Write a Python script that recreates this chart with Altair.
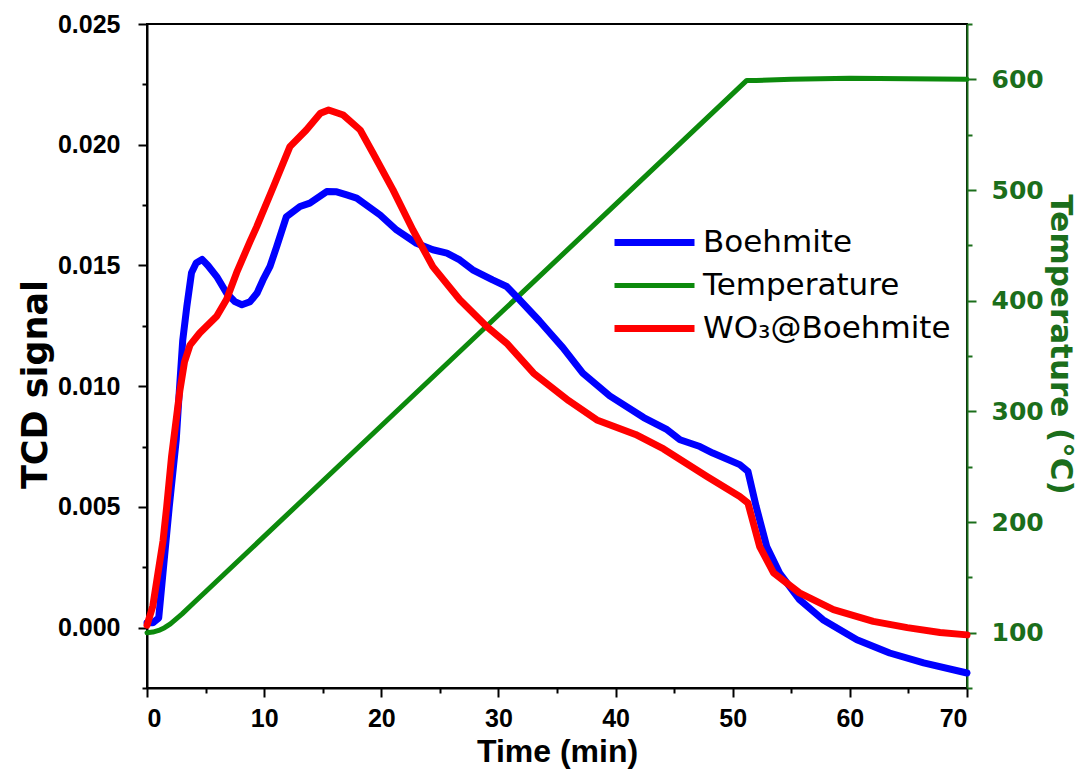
import altair as alt
import pandas as pd

# ---- data ----
time_boehmite = [0, 0.5, 1.0, 1.37, 1.9, 2.5, 2.76, 3.05, 3.4, 3.8, 4.2, 4.7, 5.2, 5.95, 6.8,
                 7.5, 8.1, 8.8, 9.4, 9.9, 10.5, 11.07, 11.9, 13.06, 13.9, 15.34, 16.2, 17.05,
                 17.9, 19.9, 21.3, 23.0, 24.4, 25.6, 26.7, 27.8, 29.5, 30.7, 31.8, 33.5, 34.4,
                 35.5, 37.2, 39.5, 42.4, 44.4, 45.5, 47.2, 48.3, 50.6, 51.3, 52.0, 52.9, 54.0,
                 55.7, 57.7, 60.6, 63.4, 66.3, 70.0]
tcd_boehmite = [0.0002, 0.0002, 0.0004, 0.0023, 0.0050, 0.0078, 0.0098, 0.0119, 0.0133, 0.0147,
                0.0151, 0.01525, 0.0150, 0.01454, 0.01385, 0.0135, 0.01337, 0.0135, 0.01386,
                0.0144, 0.01496, 0.01578, 0.01702, 0.01744, 0.01758, 0.01806, 0.01805, 0.01792,
                0.01779, 0.01709, 0.01647, 0.01592, 0.01565, 0.01551, 0.01523, 0.01482, 0.0144,
                0.01413, 0.01358, 0.0127, 0.0122, 0.0116, 0.01054, 0.0096, 0.0087, 0.0082,
                0.00778, 0.0075, 0.00723, 0.00675, 0.00647, 0.00502, 0.00336, 0.00226, 0.00116,
                0.00033, -0.0005, -0.00105, -0.00146, -0.00188]

time_wo3 = [0, 0.5, 0.95, 1.37, 1.68, 2.1, 2.8, 3.2, 3.67, 4.5, 5.95, 6.8, 7.65, 8.8, 9.36,
            10.8, 12.2, 13.6, 14.8, 15.5, 16.76, 18.2, 19.3, 21.0, 22.7, 24.4, 26.7, 29.0,
            30.7, 33.0, 36.0, 38.4, 41.7, 44.1, 47.8, 50.6, 51.3, 52.3, 53.5, 55.7, 58.6,
            62.0, 64.9, 67.7, 70.0]
tcd_wo3 = [0.0001, 0.0009, 0.0023, 0.0036, 0.0050, 0.0071, 0.0098, 0.0110, 0.0117, 0.0122,
           0.0129, 0.0136, 0.0147, 0.0160, 0.0166, 0.01827, 0.01992, 0.02061, 0.0213, 0.02144,
           0.02123, 0.02061, 0.01965, 0.01813, 0.01647, 0.01495, 0.01358, 0.01247, 0.01178,
           0.01054, 0.0094, 0.0086, 0.0080, 0.0074, 0.00626, 0.00543, 0.00516, 0.00336,
           0.00226, 0.00144, 0.00075, 0.00026, 0.0, -0.0002, -0.0003]

time_temp = [0, 0.5, 1.0, 1.5, 2.0, 3.0, 4.0, 5.0, 10.0, 20.0, 30.0, 40.0, 51.2, 52.0, 55.0,
             60.0, 65.0, 70.0]
temperature = [100, 100.5, 102, 104.5, 108, 117, 127, 137, 187, 287, 387, 487, 599, 599, 600,
               601, 600.5, 600]

series_names = ["Boehmite", "Temperature", "WO₃@Boehmite"]
series_colors = ["#0000ff", "#0c8a0c", "#ff0000"]
series_widths = [7, 5, 7]

x_ticks = [0, 5, 10, 15, 20, 25, 30, 35, 40, 45, 50, 55, 60, 65, 70]
left_ticks = [-0.0025, 0.0, 0.0025, 0.005, 0.0075, 0.01, 0.0125, 0.015, 0.0175, 0.02,
              0.0225, 0.025]
right_ticks = [50, 100, 150, 200, 250, 300, 350, 400, 450, 500, 550, 600, 650]

# ---- tables ----
tcd_df = pd.concat([
    pd.DataFrame({"time": time_boehmite, "value": tcd_boehmite, "series": series_names[0]}),
    pd.DataFrame({"time": time_wo3, "value": tcd_wo3, "series": series_names[2]}),
])
temp_df = pd.DataFrame({"time": time_temp, "value": temperature, "series": series_names[1]})

AXIS_GREEN = "#1b6e1b"

legend = alt.Legend(title=None, orient="none", legendX=492, legendY=203,
                    symbolType="M-4,0H4", symbolSize=400, labelFont="DejaVu Sans",
                    labelFontSize=31, labelColor="black", rowPadding=11, labelOffset=33,
                    labelLimit=400)
color = alt.Color("series:N", scale=alt.Scale(domain=series_names, range=series_colors),
                  legend=legend)
width = alt.StrokeWidth("series:N",
                        scale=alt.Scale(type="ordinal", domain=series_names, range=series_widths),
                        legend=legend)

x_enc = alt.X("time:Q", scale=alt.Scale(domain=[0, 70], nice=False, zero=False),
              axis=alt.Axis(title="Time (min)", values=x_ticks, orient="bottom",
                            labelExpr="datum.value % 10 == 0 ? datum.label : ''",
                            tickSize={"condition": {"test": "datum.value % 10 != 0", "value": 5},
                                      "value": 9},
                            labelFont="Liberation Sans", labelFontWeight="bold",
                            labelFontSize=25, labelPadding=9, labelColor="black",
                            titleFont="Liberation Sans", titleFontWeight="bold",
                            titleFontSize=32, titlePadding=5, titleColor="black",
                            domainColor="black", tickColor="black", domainWidth=2,
                            tickWidth=2, grid=False))

temp_layer = alt.Chart(temp_df).mark_line(strokeCap="round", strokeJoin="round").encode(
    x=x_enc,
    y=alt.Y("value:Q", scale=alt.Scale(domain=[50, 650], nice=False, zero=False),
            axis=alt.Axis(title="Temperature (°C)", orient="right", values=right_ticks,
                          labelExpr="datum.value % 100 == 0 ? datum.label : ''",
                          tickSize={"condition": {"test": "datum.value % 100 != 0", "value": 5},
                                    "value": 9},
                          labelFont="DejaVu Sans", labelFontWeight="bold", labelFontSize=25,
                          labelColor=AXIS_GREEN, labelPadding=15,
                          titleFont="DejaVu Sans", titleFontWeight="bold", titleFontSize=31,
                          titleColor=AXIS_GREEN, titlePadding=0, titleY=320,
                          domainColor=AXIS_GREEN, tickColor=AXIS_GREEN, domainWidth=2,
                          tickWidth=2, grid=False)),
    color=color,
    strokeWidth=width,
)

tcd_layer = alt.Chart(tcd_df).mark_line(strokeCap="round", strokeJoin="round").encode(
    x=x_enc,
    y=alt.Y("value:Q", scale=alt.Scale(domain=[-0.0025, 0.025], nice=False, zero=False),
            axis=alt.Axis(title="TCD signal", orient="left", values=left_ticks, format=".3f",
                          labelExpr="round(datum.value * 10000) % 50 == 0 ? datum.label : ''",
                          tickSize={"condition": {"test": "round(datum.value * 10000) % 50 != 0",
                                                  "value": 5}, "value": 9},
                          labelFont="Liberation Sans", labelFontWeight="bold", labelFontSize=25,
                          labelColor="black", labelPadding=18,
                          titleFont="DejaVu Sans", titleFontWeight="bold", titleFontSize=35,
                          titleColor="black", titlePadding=4, titleY=360,
                          domainColor="black", tickColor="black", domainWidth=2,
                          tickWidth=2, grid=False)),
    color=color,
    strokeWidth=width,
)

chart = alt.layer(temp_layer, tcd_layer).resolve_scale(y="independent").properties(
    width=820, height=664,
    padding={"left": 147, "top": 24, "right": 115, "bottom": 93},
    autosize=alt.AutoSizeParams(type="none"),
    background="white",
).configure_view(stroke="black", strokeWidth=2)

chart.save("out.html", embed_options={"renderer": "svg", "actions": False})
